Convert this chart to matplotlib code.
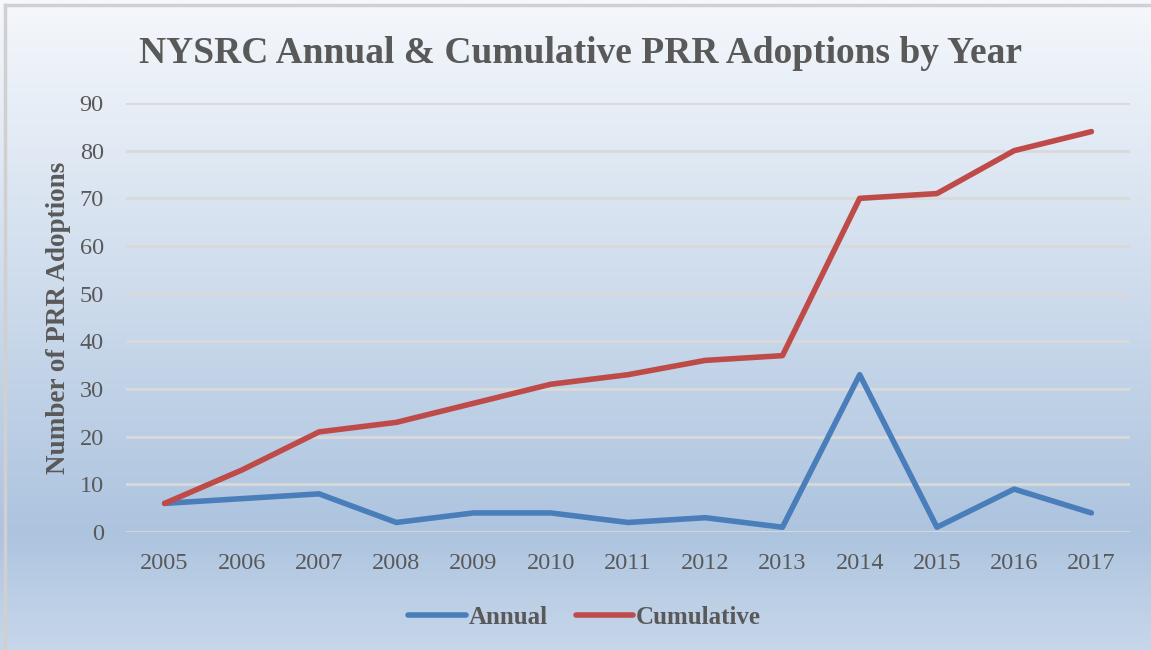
import numpy as np
import matplotlib
matplotlib.use('Agg')
from matplotlib import pyplot as plt
from matplotlib.colors import LinearSegmentedColormap

# Data
years = ['2005', '2006', '2007', '2008', '2009', '2010', '2011',
         '2012', '2013', '2014', '2015', '2016', '2017']
annual = [6, 7, 8, 2, 4, 4, 2, 3, 1, 33, 1, 9, 4]
cumulative = [6, 13, 21, 23, 27, 31, 33, 36, 37, 70, 71, 80, 84]
yticks = [0, 10, 20, 30, 40, 50, 60, 70, 80, 90]

textColor = '#595959'
serif = ['Liberation Serif', 'DejaVu Serif']

fig = plt.figure(figsize=(11.51, 6.5), dpi=100)

# Gradient background over whole chart area
bg = fig.add_axes([0, 0, 1, 1], zorder=-10)
grad = LinearSegmentedColormap.from_list(
    'bg', [(0.0, '#f5f8fc'), (0.82, '#adc4df'), (1.0, '#c7d7ea')])
bg.imshow(np.linspace(0, 1, 256).reshape(-1, 1), aspect='auto', cmap=grad,
          extent=[0, 1, 0, 1], origin='upper')
bg.set_xlim(0, 1)
bg.set_ylim(0, 1)
bg.axis('off')
# light gray frame on the left and top edges
bg.plot([5 / 1151, 5 / 1151], [0, 1 - 5 / 650], color='#d0d0d0', lw=2.5)
bg.plot([5 / 1151, 1], [1 - 5 / 650, 1 - 5 / 650], color='#d0d0d0', lw=2.5)

ax = fig.add_axes([126 / 1151, 1 - 532 / 650, 1004 / 1151, 429 / 650])
ax.patch.set_alpha(0)

x = np.arange(len(years))
ax.plot(x, annual, color='#4a7ebb', lw=4, solid_capstyle='round',
        solid_joinstyle='round', label='Annual', zorder=3)
ax.plot(x, cumulative, color='#be4b48', lw=4, solid_capstyle='round',
        solid_joinstyle='round', label='Cumulative', zorder=3)

ax.set_xlim(-0.5, len(years) - 0.5)
ax.set_ylim(0, 90)
ax.set_yticks(yticks)
ax.set_xticks(x)
ax.set_xticklabels(years)
ax.grid(axis='y', color='#d9d9d9', lw=2)
ax.set_axisbelow(True)
for s in ax.spines.values():
    s.set_visible(False)
ax.tick_params(length=0, labelsize=17.5, labelcolor=textColor)
ax.tick_params(axis='y', pad=16)
ax.tick_params(axis='x', pad=15)
for lbl in ax.get_xticklabels() + ax.get_yticklabels():
    lbl.set_family(serif)

ax.set_ylabel('Number of PRR Adoptions', fontsize=19.5, fontweight='bold',
              color=textColor, family=serif, labelpad=6)

fig.text(0.504, 0.918, 'NYSRC Annual & Cumulative PRR Adoptions by Year',
         ha='center', va='center', fontsize=27, fontweight='bold',
         color=textColor, family=serif)

leg = fig.legend(loc='center', bbox_to_anchor=(0.508, 0.05), ncol=2,
                 frameon=False, handlelength=2.3, handletextpad=0.12,
                 columnspacing=1.1,
                 prop={'family': serif, 'size': 18, 'weight': 'bold'})
for t in leg.get_texts():
    t.set_color(textColor)

fig.savefig('out.png', dpi=100)
